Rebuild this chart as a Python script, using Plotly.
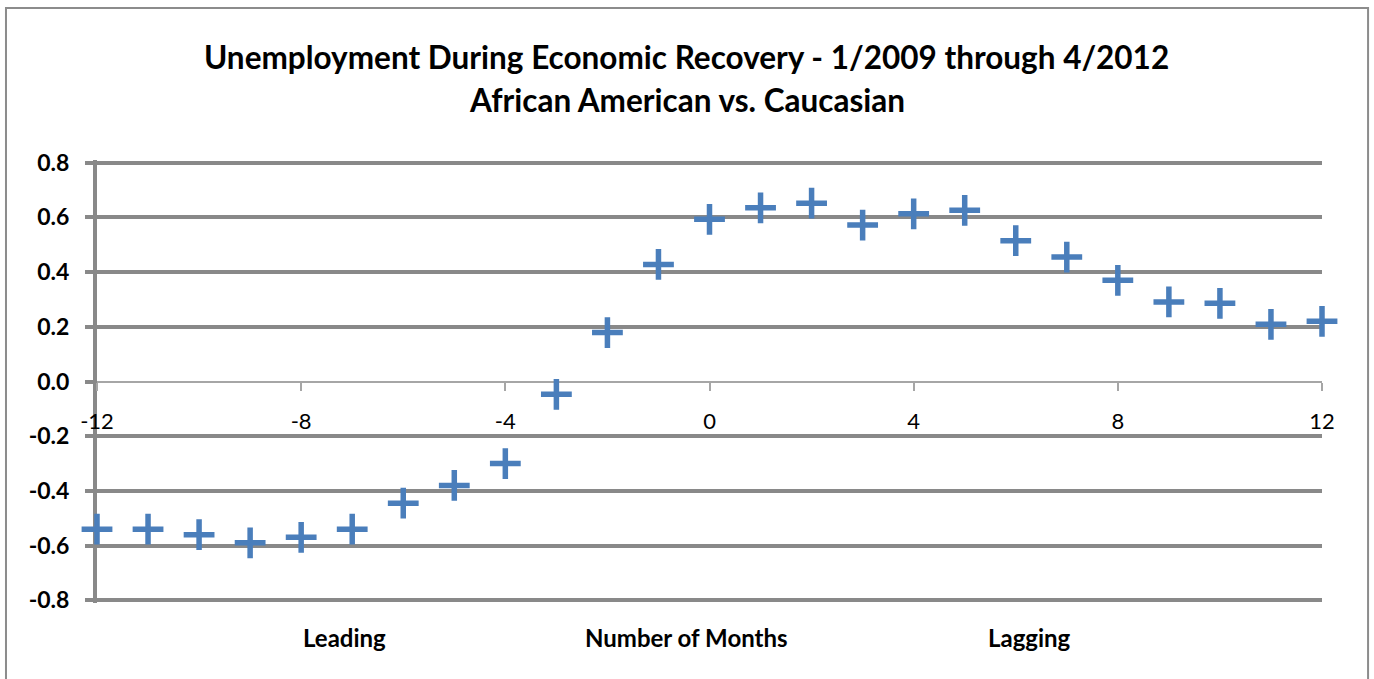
import plotly.graph_objects as go

# Data
months = [-12, -11, -10, -9, -8, -7, -6, -5, -4, -3, -2, -1, 0,
          1, 2, 3, 4, 5, 6, 7, 8, 9, 10, 11, 12]
values = [-0.54, -0.54, -0.56, -0.59, -0.57, -0.54, -0.445, -0.38, -0.30, -0.047, 0.179, 0.428, 0.593,
          0.635, 0.652, 0.572, 0.613, 0.626, 0.515, 0.455, 0.370, 0.291, 0.286, 0.209, 0.220]

x_tickvals = [-12, -8, -4, 0, 4, 8, 12]
x_ticktext = ["-12", "-8", "-4", "0", "4", "8", "12"]
y_tickvals = [-0.8, -0.6, -0.4, -0.2, 0.0, 0.2, 0.4, 0.6, 0.8]
y_ticktext = ["-0.8", "-0.6", "-0.4", "-0.2", "0.0", "0.2", "0.4", "0.6", "0.8"]

title_line1 = "Unemployment During Economic Recovery - 1/2009 through 4/2012"
title_line2 = "African American vs. Caucasian"
bottom_labels = ["Leading", "Number of Months", "Lagging"]
bottom_label_pos = [0.2024, 0.4816, 0.7616]

FONT = "Lato"
BLUE = "#4a7ebb"
GRID = "#898989"

fig = go.Figure()
fig.add_trace(go.Scatter(
    x=months, y=values, mode="markers", cliponaxis=False,
    marker=dict(symbol="cross-thin", size=22, color=BLUE,
                line=dict(width=5.5, color=BLUE)),
    showlegend=False, hoverinfo="x+y",
))

fig.update_layout(
    width=1374, height=679,
    margin=dict(l=97, r=52, t=160, b=76),
    paper_bgcolor="white", plot_bgcolor="rgba(0,0,0,0)",
    font=dict(family=FONT, color="black"),
    xaxis=dict(
        range=[-12, 12], tickvals=x_tickvals, ticktext=x_ticktext,
        anchor="free", position=0.5, layer="below traces",
        showgrid=False, zeroline=False,
        showline=True, linecolor="#a6a6a6", linewidth=2,
        ticks="outside", ticklen=8, tickwidth=1.5, tickcolor="#a6a6a6",
        tickfont=dict(family=FONT, size=22, color="black"),
        ticklabelstandoff=12,
    ),
    yaxis=dict(
        range=[-0.81, 0.81], tickvals=y_tickvals, ticktext=y_ticktext,
        layer="below traces",
        showgrid=True, gridcolor=GRID, gridwidth=4,
        zeroline=True, zerolinecolor="#a6a6a6", zerolinewidth=2,
        showline=True, linecolor=GRID, linewidth=4,
        ticks="outside", ticklen=8, tickwidth=4, tickcolor=GRID,
        tickfont=dict(family=FONT, size=23, color="black", weight="bold"),
        ticklabelstandoff=11,
    ),
)

# chart border
fig.add_shape(type="rect", xref="paper", yref="paper",
              x0=-0.0743, x1=1.0376, y0=-0.3, y1=1.3431,
              line=dict(color="#8c8c8c", width=2), layer="below")

fig.add_annotation(text=title_line1, xref="paper", yref="paper",
                   x=0.4816, y=1.2325, xanchor="center", yanchor="middle",
                   showarrow=False, font=dict(family=FONT, size=31.5, weight="bold"))
fig.add_annotation(text=title_line2, xref="paper", yref="paper",
                   x=0.4816, y=1.1354, xanchor="center", yanchor="middle",
                   showarrow=False, font=dict(family=FONT, size=31.5, weight="bold"))

for lab, px in zip(bottom_labels, bottom_label_pos):
    fig.add_annotation(text=lab, xref="paper", yref="paper",
                       x=px, y=-0.079, xanchor="center", yanchor="middle",
                       showarrow=False, font=dict(family=FONT, size=24, weight="bold"))

fig.write_html("out.html")
